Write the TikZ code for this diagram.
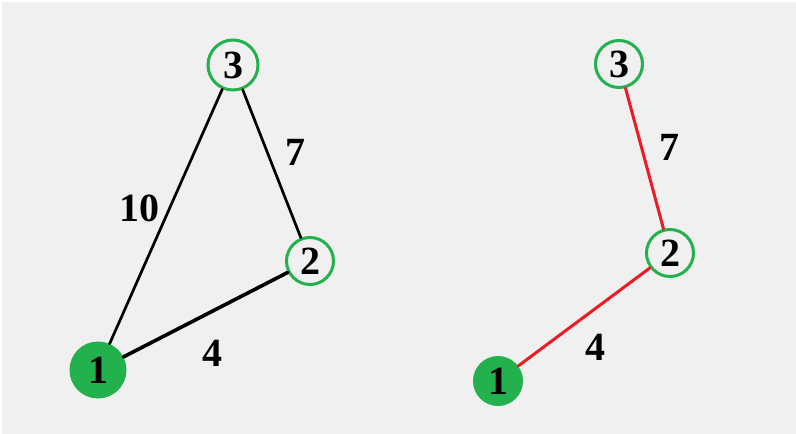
\documentclass[tikz,border=0pt]{standalone}
\usepackage{fontspec}
\setmainfont{Liberation Serif}
\usepackage{xcolor}
\usepackage{tikz}
\usetikzlibrary{positioning}

\definecolor{paintgreen}{HTML}{22B14C}
\definecolor{paintred}{HTML}{ED1C24}
\definecolor{canvas}{HTML}{F0F0F0}

\begin{document}
\begin{tikzpicture}[
    x=1pt, y=-1pt,
    vert/.style={circle, draw=paintgreen, line width=3pt, inner sep=0pt, minimum size=47pt, font=\fontsize{40}{44}\selectfont\bfseries},
    start/.style={vert, fill=paintgreen},
    lbl/.style={inner sep=0pt, font=\fontsize{40}{44}\selectfont\bfseries},
    edge/.style={line width=2.7pt, line cap=round},
    tree/.style={edge, draw=paintred, line width=3pt},
]
\useasboundingbox (0,0) rectangle (796,434);
\fill[white] (0,0) rectangle (796,434);
\fill[canvas] (2,2) rectangle (796,434);

% graph
\node[start, minimum size=54pt] (a1) at (98,370) {1};
\node[vert] (a2) at (310,261) {2};
\node[vert, minimum size=50pt] (a3) at (233,65) {3};

\draw[edge] (a1) -- (a3);
\draw[edge] (a3) -- (a2);
\draw[edge, line width=3.6pt] (a1) -- (a2);

\node[lbl] (w13) at (139,208) {10};
\node[lbl] (w23) at (295,152) {7};
\node[lbl] (w12) at (212,353) {4};

% spanning tree
\node[start] (b1) at (498,381) {1};
\node[vert] (b2) at (670,253) {2};
\node[vert] (b3) at (619,64) {3};

\draw[tree] (b3) -- (b2);
\draw[tree] (b2) -- (b1);

\node[lbl] (t23) at (669,147) {7};
\node[lbl] (t12) at (595,347) {4};
\end{tikzpicture}
\end{document}
